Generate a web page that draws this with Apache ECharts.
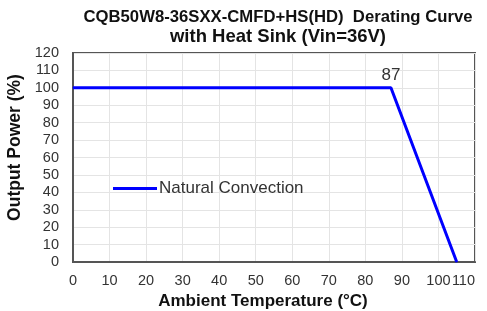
<!DOCTYPE html>
<html>
<head>
<meta charset="utf-8">
<script src="https://cdn.jsdelivr.net/npm/echarts@6/dist/echarts.min.js"></script>
<style>
  html, body { margin: 0; padding: 0; background: #fff; }
  #chart { width: 487px; height: 311px; }
</style>
</head>
<body>
<div id="chart"></div>
<script>
// derating curve data
const temps = [0, 87, 105];
const power = [100, 100, 0];
const seriesName = "Natural Convection";
const titleLine1 = "CQB50W8-36SXX-CMFD+HS(HD)  Derating Curve";
const titleLine2 = "with Heat Sink (Vin=36V)";

var chart = echarts.init(document.getElementById("chart"));

// only the knee point gets its value printed
const points = temps.map((t, i) => ({
  value: [t, power[i]],
  label: { show: i === 1, formatter: String(t) }
}));

chart.setOption({
  animation: false,
  backgroundColor: "#fff",
  textStyle: { fontFamily: "Liberation Sans, Arial, sans-serif" },
  title: [
    {
      text: titleLine1,
      left: 278,
      top: 9,
      padding: 0,
      textAlign: "center",
      textStyle: { fontSize: 16.7, fontWeight: "bold", color: "#111" }
    },
    {
      text: titleLine2,
      left: 278,
      top: 27,
      padding: 0,
      textAlign: "center",
      textStyle: { fontSize: 18.5, fontWeight: "bold", color: "#111" }
    }
  ],
  legend: {
    left: 108,
    top: 175,
    itemWidth: 44,
    itemHeight: 14,
    itemGap: 10,
    data: [{ name: seriesName, icon: "path://M0,6 L44,6 L44,9 L0,9 Z" }],
    textStyle: { fontSize: 17, color: "#333", padding: [0, 0, 0, -3] }
  },
  grid: { left: 73, right: 12, top: 53, bottom: 49, outerBoundsMode: "none", containLabel: false },
  xAxis: {
    type: "value",
    min: 0,
    max: 110,
    interval: 10,
    name: "Ambient Temperature (\u00B0C)",
    nameLocation: "middle",
    nameGap: 31,
    nameTextStyle: { fontSize: 17, fontWeight: "bold", color: "#111", padding: [0, 22, 0, 0] },
    axisLine: { show: true, lineStyle: { color: "#555", width: 2 } },
    axisTick: { show: false },
    axisLabel: { fontSize: 14.5, color: "#333", margin: 11, alignMaxLabel: "right" },
    splitLine: { show: true, lineStyle: { color: "#e4e4e4" } }
  },
  yAxis: {
    type: "value",
    min: 0,
    max: 120,
    interval: 10,
    name: "Output Power (%)",
    nameLocation: "middle",
    nameGap: 48,
    nameTextStyle: { fontSize: 17.5, fontWeight: "bold", color: "#111", padding: [0, 0, 0, 20] },
    axisLine: { show: true, lineStyle: { color: "#555", width: 2 } },
    axisTick: { show: false },
    axisLabel: { fontSize: 14.5, color: "#333", margin: 14 },
    splitLine: { show: true, lineStyle: { color: "#e4e4e4" } }
  },
  graphic: [{
    type: "rect",
    shape: { x: 73, y: 53, width: 402, height: 209 },
    style: { fill: "none", stroke: "#555", lineWidth: 2 },
    silent: true
  }],
  series: [{
    name: seriesName,
    type: "line",
    symbol: "circle",
    symbolSize: 1,
    showSymbol: true,
    color: "#0000ff",
    lineStyle: { width: 3, color: "#0000ff" },
    label: { position: "top", fontSize: 17, color: "#333", distance: 4 },
    data: points
  }]
});
</script>
</body>
</html>
